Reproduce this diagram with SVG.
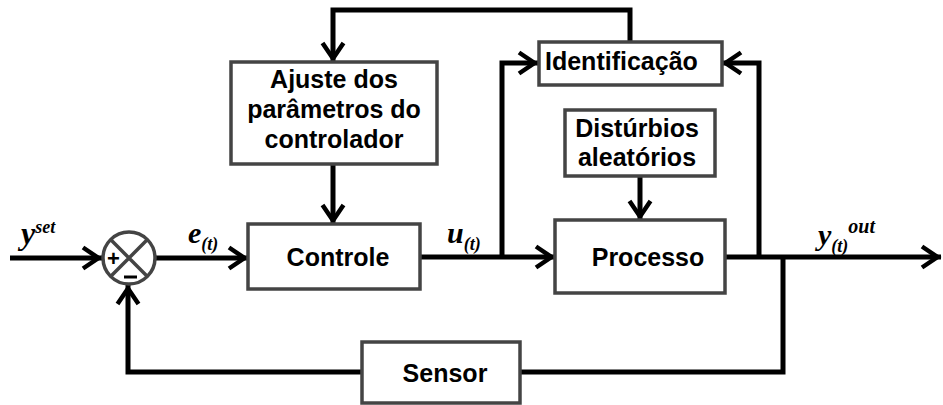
<svg xmlns="http://www.w3.org/2000/svg" width="943" height="405" viewBox="0 0 943 405">
<style>
.box{fill:#fff;stroke:#444;stroke-width:3.5}
.lbl{font-family:"Liberation Sans",Arial,sans-serif;font-weight:bold;font-size:25px;fill:#000}
.var{font-family:"Liberation Serif","Times New Roman",serif;font-weight:bold;font-style:italic;fill:#000}
.wire{fill:none;stroke:#000;stroke-width:5;stroke-linejoin:miter}
.arr{marker-end:url(#ah)}
</style>
<defs>
<marker id="ah" markerUnits="userSpaceOnUse" markerWidth="40" markerHeight="40" viewBox="-25 -20 40 40" refX="0" refY="0" orient="auto">
<path d="M-19,-10.5 L-3.5,0 L-19,10.5" fill="none" stroke="#000" stroke-width="4.5" stroke-linejoin="miter"/>
</marker>
</defs>
<rect width="943" height="405" fill="#fff"/>

<g id="connectors">
<path class="wire arr" d="M10,258 L102,258"/>
<path class="wire arr" d="M155,258 L248,258"/>
<path class="wire arr" d="M420,257 L555,257"/>
<path class="wire arr" d="M725,257 L941,257"/>
<path class="wire arr" d="M502,257 L502,63 L538,63"/>
<path class="wire arr" d="M759,257 L759,63 L722,63"/>
<path class="wire" d="M783,257 L783,372 L520,372"/>
<path class="wire arr" d="M362,372 L128,372 L128,285"/>
<path class="wire arr" d="M630,42 L630,10 L333,10 L333,62"/>
<path class="wire arr" d="M333,164 L333,224"/>
<path class="wire arr" d="M640,176 L640,220"/>
</g>

<g id="sum">
<circle cx="129" cy="258" r="26" fill="#fff" stroke="#444" stroke-width="3.5"/>
<path d="M110.6,239.6 L147.4,276.4 M147.4,239.6 L110.6,276.4" stroke="#444" stroke-width="3.5"/>
<text x="113.5" y="266" text-anchor="middle" font-family="Liberation Sans,Arial,sans-serif" font-weight="bold" font-size="22" fill="#000">+</text>
<path d="M124,277 L137,277" stroke="#000" stroke-width="3"/>
</g>

<g id="ajuste">
<rect class="box" x="231" y="62" width="206" height="102"/>
<text class="lbl" x="334" y="88" text-anchor="middle">Ajuste dos</text>
<text class="lbl" x="334" y="118" text-anchor="middle">parâmetros do</text>
<text class="lbl" x="334" y="148" text-anchor="middle">controlador</text>
</g>

<g id="identificacao">
<rect class="box" x="539" y="42" width="183" height="43"/>
<text class="lbl" x="545" y="70">Identificação</text>
</g>

<g id="disturbios">
<rect class="box" x="565" y="110" width="150" height="66"/>
<text class="lbl" x="637" y="137" text-anchor="middle">Distúrbios</text>
<text class="lbl" x="637" y="166" text-anchor="middle">aleatórios</text>
</g>

<g id="controle">
<rect class="box" x="248" y="224" width="172" height="65"/>
<text class="lbl" x="338" y="266" text-anchor="middle">Controle</text>
</g>

<g id="processo">
<rect class="box" x="555" y="220" width="170" height="73"/>
<text class="lbl" x="648" y="266" text-anchor="middle">Processo</text>
</g>

<g id="sensor">
<rect class="box" x="362" y="342" width="158" height="61"/>
<text class="lbl" x="445" y="382" text-anchor="middle">Sensor</text>
</g>

<g id="labels">
<text class="var" x="21" y="244" font-size="32">y<tspan font-size="18" dy="-11">set</tspan></text>
<text class="var" x="188" y="243" font-size="30">e<tspan font-size="18" dy="7">(t)</tspan></text>
<text class="var" x="447" y="243" font-size="30">u<tspan font-size="18" dy="7">(t)</tspan></text>
<text class="var" x="818" y="245" font-size="30">y<tspan font-size="18" dy="7">(t)</tspan><tspan font-size="20" dy="-19">out</tspan></text>
</g>
</svg>
